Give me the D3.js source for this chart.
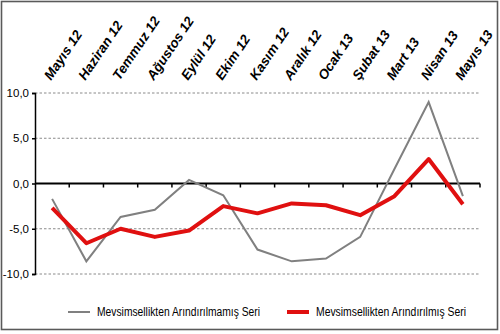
<!DOCTYPE html>
<html>
<head>
<meta charset="utf-8">
<script src="https://cdn.jsdelivr.net/npm/d3@7"></script>
<style>
  html, body { margin: 0; padding: 0; background: #fff; }
  svg { display: block; }
</style>
</head>
<body>
<script>
// Monthly categories (May 2012 – May 2013)
const months = ["Mayıs 12", "Haziran 12", "Temmuz 12", "Ağustos 12", "Eylül 12", "Ekim 12",
  "Kasım 12", "Aralık 12", "Ocak 13", "Şubat 13", "Mart 13", "Nisan 13", "Mayıs 13"];

// Unadjusted series
const rawSeries = [-1.7, -8.6, -3.7, -2.9, 0.4, -1.3, -7.3, -8.6, -8.3, -5.9, 1.6, 9.0, -1.4];

// Seasonally adjusted series
const adjustedSeries = [-2.7, -6.6, -5.0, -5.9, -5.2, -2.5, -3.3, -2.2, -2.4, -3.5, -1.4, 2.7, -2.3];

const yTicks = [10, 5, 0, -5, -10];
const seriesNames = ["Mevsimsellikten Arındırılmamış Seri", "Mevsimsellikten Arındırılmış Seri"];

const W = 500, H = 334;
const plot = { left: 35, right: 480, top: 93, bottom: 274 };
const FONT = "'Liberation Sans Narrow', 'Liberation Sans', Arial, sans-serif";

const svg = d3.select("body").append("svg").attr("width", W).attr("height", H);

// Outer frame
svg.append("rect")
  .attr("x", 1.5).attr("y", 1.5).attr("width", W - 4).attr("height", H - 6)
  .attr("fill", "#fff").attr("stroke", "#5a5a5a").attr("stroke-width", 1.6);

const x = d3.scaleBand().domain(months).range([plot.left, plot.right]).padding(0);
const y = d3.scaleLinear().domain([-10, 10]).range([plot.bottom, plot.top]);
const cx = d => x(d) + x.bandwidth() / 2;

// Dashed horizontal gridlines
svg.append("g").selectAll("line").data(yTicks.filter(v => v !== 0)).join("line")
  .attr("x1", plot.left).attr("x2", plot.right)
  .attr("y1", d => y(d)).attr("y2", d => y(d))
  .attr("stroke", "#8a8a8a").attr("stroke-width", 1)
  .attr("stroke-dasharray", "2.5,2");

// Vertical axis with value labels
const yAxis = d3.axisLeft(y).tickValues(yTicks).tickSize(3).tickPadding(3)
  .tickFormat(d => d3.format(".1f")(d).replace(".", ",").replace("−", "-"));
const gy = svg.append("g").attr("transform", `translate(${plot.left},0)`).call(yAxis);
gy.select(".domain").attr("stroke", "#000").attr("stroke-width", 1.5);
gy.selectAll(".tick line").attr("stroke", "#000").attr("stroke-width", 1.5);
gy.selectAll(".tick text")
  .attr("font-family", FONT)
  .attr("font-size", 11.5).attr("fill", "#000");

// Horizontal axis at zero with category tick marks
const zeroY = y(0);
svg.append("line")
  .attr("x1", plot.left).attr("x2", plot.right)
  .attr("y1", zeroY).attr("y2", zeroY)
  .attr("stroke", "#000").attr("stroke-width", 2);
const boundaries = months.map(m => x(m) + x.bandwidth());
svg.append("g").selectAll("line").data(boundaries).join("line")
  .attr("x1", d => d).attr("x2", d => d)
  .attr("y1", zeroY).attr("y2", zeroY + 4)
  .attr("stroke", "#000").attr("stroke-width", 1.5);

// Rotated month labels above the plot
svg.append("g").selectAll("text").data(months).join("text")
  .attr("transform", d => `translate(${cx(d) - 1},81) rotate(-56)`)
  .attr("text-anchor", "start")
  .attr("font-family", FONT)
  .attr("font-weight", "bold").attr("font-style", "italic")
  .attr("font-size", 13.5).attr("fill", "#000")
  .text(d => d);

// Series lines
const line = vals => d3.line().x((d, i) => cx(months[i])).y(d => y(d))(vals);

svg.append("path").attr("d", line(rawSeries))
  .attr("fill", "none").attr("stroke", "#808080").attr("stroke-width", 2)
  .attr("stroke-linejoin", "miter");

svg.append("path").attr("d", line(adjustedSeries))
  .attr("fill", "none").attr("stroke", "#e01010").attr("stroke-width", 4)
  .attr("stroke-linejoin", "round");

// Legend
const legend = svg.append("g").attr("font-family", FONT)
  .attr("font-size", 12).attr("fill", "#000");
const legendItems = [
  { name: seriesNames[0], color: "#808080", w: 2, x0: 68, len: 163 },
  { name: seriesNames[1], color: "#e01010", w: 4, x0: 287, len: 150 }
];
legendItems.forEach(it => {
  legend.append("line")
    .attr("x1", it.x0).attr("x2", it.x0 + 22)
    .attr("y1", 312).attr("y2", 312)
    .attr("stroke", it.color).attr("stroke-width", it.w);
  legend.append("text")
    .attr("x", it.x0 + 29).attr("y", 316)
    .attr("textLength", it.len).attr("lengthAdjust", "spacingAndGlyphs")
    .text(it.name);
});
</script>
</body>
</html>
